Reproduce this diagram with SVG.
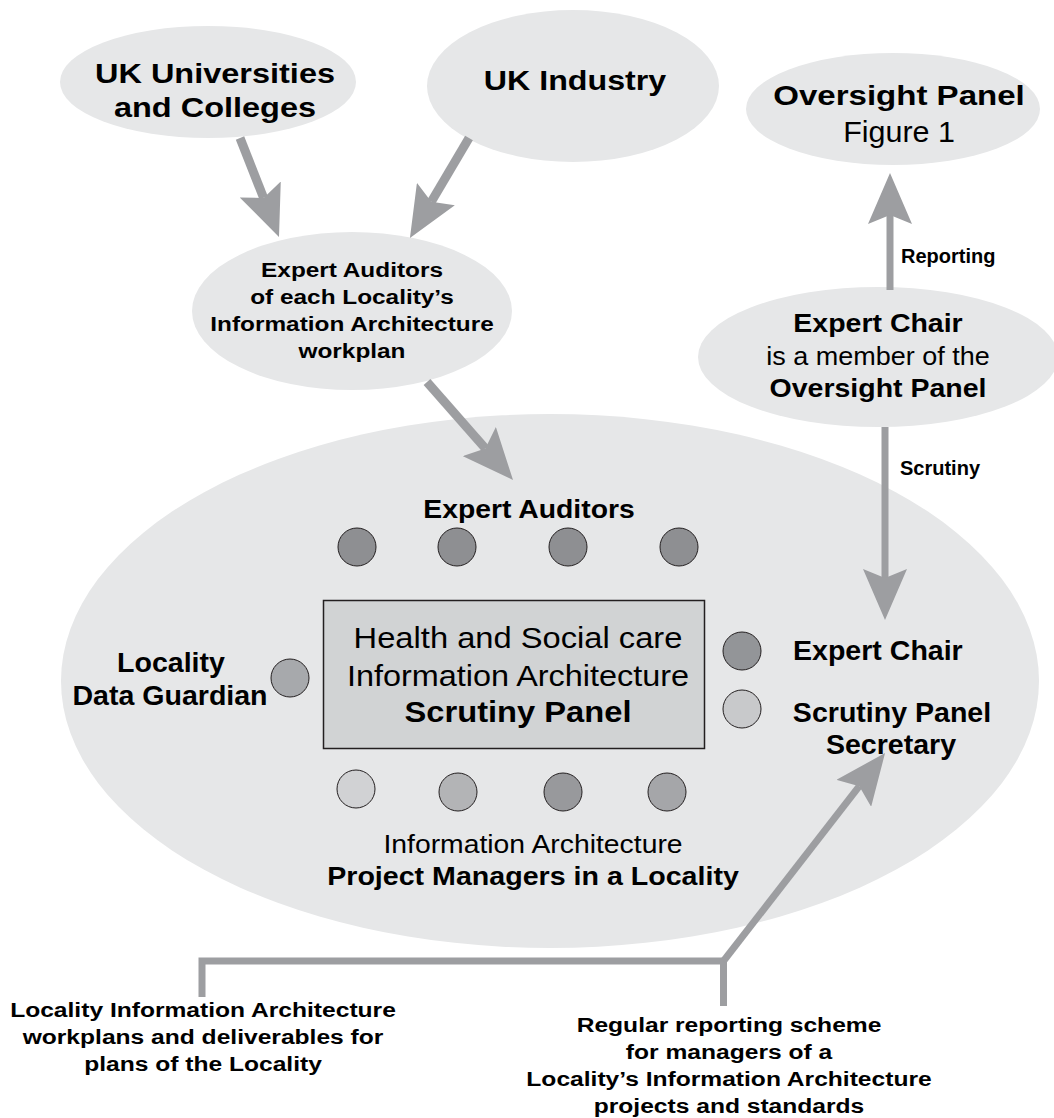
<svg xmlns="http://www.w3.org/2000/svg" width="1054" height="1118" viewBox="0 0 1054 1118">
<style>
.el{fill:#e6e7e8}
.t{font-family:"Liberation Sans",Arial,Helvetica,sans-serif;fill:#000;text-anchor:middle}
.b{font-weight:bold}
.st{text-anchor:start}
.dot{stroke:#231f20;stroke-width:1}
.d1{fill:#8e8f92}
.conn{stroke:#9d9ea1;fill:none}
</style>
<defs>
<marker id="ah" markerUnits="userSpaceOnUse" markerWidth="51" markerHeight="44" viewBox="0 0 51 44" refX="9" refY="22" orient="auto">
<path d="M0,0 L51,22 L0,44 L9,22 Z" fill="#9d9ea1"/>
</marker>
</defs>
<rect width="1054" height="1118" fill="#fff"/>

<g id="locality-scrutiny">
<ellipse class="el" cx="550" cy="681" rx="489" ry="267"/>
</g>

<g id="uk-universities">
<ellipse class="el" cx="208" cy="82" rx="148" ry="56"/>
<text class="t b" font-size="28" transform="translate(215,83) scale(1.16,1)">UK Universities</text>
<text class="t b" font-size="28" transform="translate(215,117) scale(1.16,1)">and Colleges</text>
</g>

<g id="uk-industry">
<ellipse class="el" cx="573" cy="86" rx="146" ry="76"/>
<text class="t b" font-size="28" transform="translate(575,90) scale(1.15,1)">UK Industry</text>
</g>

<g id="oversight-panel">
<ellipse class="el" cx="893" cy="109" rx="147" ry="56"/>
<text class="t b" font-size="28" transform="translate(899,105) scale(1.18,1)">Oversight Panel</text>
<text class="t" font-size="29" transform="translate(899,142) scale(1.05,1)">Figure 1</text>
</g>

<g id="expert-auditors-source">
<ellipse class="el" cx="352" cy="311" rx="160" ry="79"/>
<text class="t b" font-size="19.5" transform="translate(352,277) scale(1.25,1)">Expert Auditors</text>
<text class="t b" font-size="19.5" transform="translate(352,304) scale(1.25,1)">of each Locality’s</text>
<text class="t b" font-size="19.5" transform="translate(352,331) scale(1.25,1)">Information Architecture</text>
<text class="t b" font-size="19.5" transform="translate(352,358) scale(1.25,1)">workplan</text>
</g>

<g id="expert-chair">
<ellipse class="el" cx="878" cy="357" rx="180" ry="70"/>
<text class="t b" font-size="25" transform="translate(878,332) scale(1.14,1)">Expert Chair</text>
<text class="t" font-size="25" transform="translate(878,365) scale(1.08,1)">is a member of the</text>
<text class="t b" font-size="25" transform="translate(878,397) scale(1.14,1)">Oversight Panel</text>
</g>

<g id="scrutiny-panel">
<rect x="323.5" y="600.5" width="381" height="148" fill="#d1d3d4" stroke="#231f20" stroke-width="1.5"/>
<text class="t" font-size="30" transform="translate(518,648) scale(1.09,1)">Health and Social care</text>
<text class="t" font-size="30" transform="translate(518,686) scale(1.08,1)">Information Architecture</text>
<text class="t b" font-size="30" transform="translate(518,722) scale(1.09,1)">Scrutiny Panel</text>
</g>

<g id="expert-auditor-seats">
<text class="t b" font-size="26" transform="translate(529,518) scale(1.09,1)">Expert  Auditors</text>
<circle class="dot d1" cx="357" cy="547" r="19"/>
<circle class="dot d1" cx="457" cy="547" r="19"/>
<circle class="dot d1" cx="568" cy="547" r="19"/>
<circle class="dot d1" cx="679" cy="547" r="19"/>
</g>

<g id="data-guardian">
<circle class="dot" cx="290" cy="678" r="19" fill="#a7a9ac"/>
<text class="t b" font-size="28" transform="translate(171,672) scale(1.02,1)">Locality</text>
<text class="t b" font-size="28" transform="translate(170,705) scale(1.02,1)">Data Guardian</text>
</g>

<g id="chair-seat">
<circle class="dot" cx="742" cy="651" r="19" fill="#939598"/>
<text class="t b st" font-size="28" transform="translate(793,660) scale(1.02,1)">Expert Chair</text>
</g>

<g id="secretary-seat">
<circle class="dot" cx="742" cy="709" r="19" fill="#c8c9cb"/>
<text class="t b" font-size="28" transform="translate(892,722) scale(1.02,1)">Scrutiny Panel</text>
<text class="t b" font-size="28" transform="translate(891,754) scale(1.02,1)">Secretary</text>
</g>

<g id="project-manager-seats">
<circle class="dot" cx="356" cy="789" r="19" fill="#d1d2d4"/>
<circle class="dot" cx="458" cy="792" r="19" fill="#b3b4b6"/>
<circle class="dot" cx="563" cy="792" r="19" fill="#98999c"/>
<circle class="dot" cx="667" cy="792" r="19" fill="#a5a6a9"/>
<text class="t" font-size="26" transform="translate(533,853) scale(1.09,1)">Information Architecture</text>
<text class="t b" font-size="26" transform="translate(533,885) scale(1.1,1)">Project Managers in a Locality</text>
</g>

<g id="locality-workplans">
<text class="t b" font-size="20" transform="translate(203,1017) scale(1.23,1)">Locality Information Architecture</text>
<text class="t b" font-size="20" transform="translate(203,1044) scale(1.23,1)">workplans and deliverables for</text>
<text class="t b" font-size="20" transform="translate(203,1071) scale(1.23,1)">plans of the Locality</text>
</g>

<g id="reporting-scheme">
<text class="t b" font-size="20" transform="translate(729,1032) scale(1.23,1)">Regular reporting scheme</text>
<text class="t b" font-size="20" transform="translate(729,1059) scale(1.23,1)">for managers of a</text>
<text class="t b" font-size="20" transform="translate(729,1086) scale(1.23,1)">Locality’s Information Architecture</text>
<text class="t b" font-size="20" transform="translate(729,1113) scale(1.23,1)">projects and standards</text>
</g>

<g id="connectors">
<line class="conn" stroke-width="9" x1="240" y1="138" x2="263.6" y2="197.9" marker-end="url(#ah)"/>
<line class="conn" stroke-width="9" x1="469" y1="138" x2="431.3" y2="201.8" marker-end="url(#ah)"/>
<line class="conn" stroke-width="9" x1="427" y1="382" x2="485.3" y2="448.4" marker-end="url(#ah)"/>
<line class="conn" stroke-width="7" x1="890" y1="290" x2="890" y2="215" marker-end="url(#ah)"/>
<text class="t b st" font-size="20" x="901" y="263">Reporting</text>
<line class="conn" stroke-width="7" x1="885" y1="427" x2="885" y2="578" marker-end="url(#ah)"/>
<text class="t b st" font-size="20" x="900" y="475">Scrutiny</text>
<path class="conn" stroke-width="7" d="M202,997 V961 H723.5 V1006"/>
<line class="conn" stroke-width="7" x1="723.5" y1="961" x2="859.3" y2="786.2" marker-end="url(#ah)"/>
</g>
</svg>
